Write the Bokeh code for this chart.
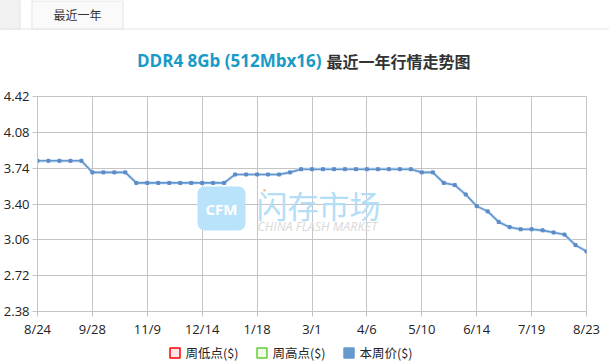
from bokeh.plotting import figure
from bokeh.layouts import column
from bokeh.models import ColumnDataSource, FixedTicker, Label, Range1d
from bokeh.core.properties import value
from bokeh.embed import file_html
from bokeh.resources import INLINE

# ---- data ----
week_index = list(range(51))
price = [3.81, 3.81, 3.81, 3.81, 3.81,
         3.70, 3.70, 3.70, 3.70,
         3.60, 3.60, 3.60, 3.60, 3.60, 3.60, 3.60, 3.60, 3.60,
         3.68, 3.68, 3.68, 3.68, 3.68,
         3.70,
         3.73, 3.73, 3.73, 3.73, 3.73, 3.73, 3.73, 3.73, 3.73, 3.73, 3.73,
         3.70, 3.70,
         3.60, 3.58, 3.49, 3.38, 3.33, 3.23, 3.18, 3.16, 3.16, 3.15, 3.13, 3.11, 3.01, 2.95]
tick_positions = [0, 5, 10, 15, 20, 25, 30, 35, 40, 45, 50]
tick_labels = ["8/24", "9/28", "11/9", "12/14", "1/18", "3/1", "4/6", "5/10", "6/14", "7/19", "8/23"]
y_ticks = [2.38, 2.72, 3.06, 3.40, 3.74, 4.08, 4.42]
legend_labels = ["周低点($)", "周高点($)", "本周价($)"]
legend_fill = ["#ffe6e6", "#eefbe6", "#6699cc"]
legend_edge = ["#ff0000", "#66cc33", "#6699cc"]
title_en = "DDR4 8Gb (512Mbx16)"
title_cn = "最近一年行情走势图"
tab_text = "最近一年"

W = 609
H_HEAD, H_MAIN, H_LEG = 80, 260, 23
CJK = value("Noto Sans CJK SC")


def blank(h):
    f = figure(width=W, height=h, output_backend="svg", toolbar_location=None,
               x_range=Range1d(0, W), y_range=Range1d(h, 0),
               x_axis_location=None, y_axis_location=None, frame_align=False,
               min_border=0, min_border_left=0, min_border_right=0,
               min_border_top=0, min_border_bottom=0)
    f.grid.visible = False
    f.outline_line_color = None
    f.background_fill_color = "white"
    f.border_fill_color = "white"
    return f


# ---- header: tabs + title ----
head = blank(H_HEAD)
head.segment(x0=[0], y0=[28.5], x1=[W], y1=[28.5], line_color="#e3e3e3", line_width=1)
head.quad(left=[0], right=[19.5], top=[0], bottom=[28.5], fill_color="#f2f2f2",
          line_color="#e3e3e3", line_width=1)
head.quad(left=[31.5], right=[122.5], top=[0.5], bottom=[28.5], fill_color="#fafafa",
          line_color="#e3e3e3", line_width=1)
head.text(x=[77], y=[14], text=[tab_text], text_font=CJK, text_font_size="12px",
          text_color="#333333", text_align="center", text_baseline="middle")
head.text(x=[321], y=[60], text=[title_en], text_font=value("Open Sans"), text_font_style="bold",
          text_font_size="17px", text_color="#1a9ac6", text_align="right", text_baseline="middle")
head.text(x=[326], y=[60], text=[title_cn], text_font=CJK, text_font_style="bold",
          text_font_size="16px", text_color="#333333", text_align="left", text_baseline="middle")

# ---- main chart ----
src = ColumnDataSource(dict(x=week_index, y=price))
p = figure(width=W, height=H_MAIN, output_backend="svg", toolbar_location=None,
           x_range=(0, 50), y_range=(2.38, 4.42), frame_align=False,
           min_border_left=36, min_border_right=23, min_border_top=16, min_border_bottom=28)
p.background_fill_color = "white"
p.border_fill_color = "white"
p.outline_line_color = "#c4c4c4"

grid_c = "#c4c4c4"
p.xgrid.ticker = FixedTicker(ticks=tick_positions)
p.ygrid.ticker = FixedTicker(ticks=y_ticks)
p.xgrid.grid_line_color = grid_c
p.ygrid.grid_line_color = grid_c

p.xaxis.ticker = FixedTicker(ticks=tick_positions)
p.xaxis.major_label_overrides = {t: l for t, l in zip(tick_positions, tick_labels)}
p.yaxis.ticker = FixedTicker(ticks=y_ticks)
p.yaxis.major_label_overrides = {t: f"{t:.2f}" for t in y_ticks}
for ax in (p.xaxis[0], p.yaxis[0]):
    ax.axis_line_color = grid_c
    ax.major_tick_line_color = grid_c
    ax.minor_tick_line_color = None
    ax.major_tick_in = 0
    ax.major_tick_out = 5
    ax.major_label_text_font = "Open Sans"
    ax.major_label_text_font_size = "13px"
    ax.major_label_text_color = "#222222"
    ax.major_label_standoff = 3

FL, FB = 36, 312 - H_HEAD  # frame left / bottom inside the main figure


def lab(xc, yc, text, **kw):
    p.add_layout(Label(x=xc - FL, y=FB - (yc - H_HEAD), x_units="screen", y_units="screen",
                       text=text, **kw))


# watermark
lab(220, 209, "CFM", text_font="Open Sans", text_font_style="bold", text_font_size="15px",
    text_color="white", text_align="center", text_baseline="middle",
    background_fill_color="#b9e3fa", border_radius=7,
    padding=dict(left=8, right=8, top=12, bottom=12))
lab(255, 205, "闪存市场", text_font="Noto Sans CJK SC", text_font_size="31px",
    text_color="#b3def8", text_align="left", text_baseline="middle")
lab(263, 190, "●", text_font_size="6px", text_color="#f9b98e",
    text_align="center", text_baseline="middle")
lab(256, 227, "CHINA FLASH MARKET", text_font="Open Sans", text_font_style="italic",
    text_font_size="12.5px", text_color="#d9d9d9", text_align="left", text_baseline="middle")

p.line("x", "y", source=src, line_color="#d3e0f1", line_width=3.2)
p.line("x", "y", source=src, line_color="#6196cf", line_width=1.6)
p.scatter("x", "y", source=src, marker="square", size=3, fill_color="#5b8cc8", line_color="#5b8cc8")

# ---- legend strip ----
leg = blank(H_LEG)
sq_left = [169, 256, 343]
txt_left = [185, 272, 359]
leg.quad(left=[v + 0.5 for v in sq_left], right=[v + 10.5 for v in sq_left],
         top=[7.5] * 3, bottom=[17.5] * 3, fill_color=legend_fill, line_color=legend_edge,
         line_width=1.5)
leg.text(x=txt_left, y=[12] * 3, text=legend_labels, text_font=CJK, text_font_size="12.5px",
         text_color="#222222", text_align="left", text_baseline="middle")

layout = column(head, p, leg, spacing=0)
open("out.html", "w").write(file_html(layout, INLINE))
